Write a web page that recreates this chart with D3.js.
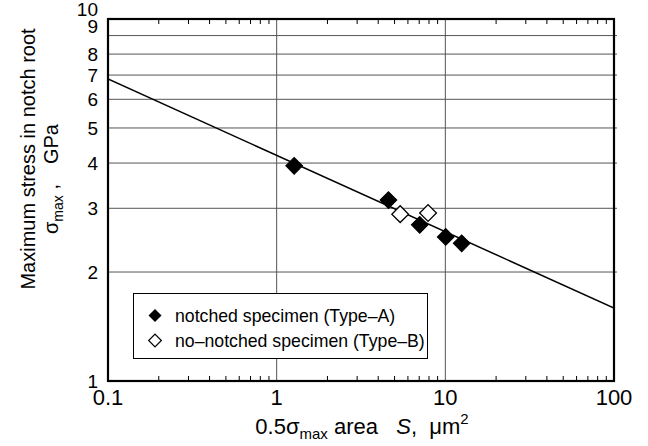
<!DOCTYPE html>
<html>
<head>
<meta charset="utf-8">
<script src="https://cdn.jsdelivr.net/npm/d3@7"></script>
<style>
body { margin: 0; background: #fff; }
svg text { font-family: "Liberation Sans", Arial, sans-serif; fill: #000; white-space: pre; }
</style>
</head>
<body>
<svg id="chart" width="648" height="446"></svg>
<script>
// Data
const typeA_S = [1.27, 4.6, 7.05, 10.05, 12.5];
const typeA_sigma = [3.93, 3.16, 2.70, 2.50, 2.40];
const typeB_S = [5.4, 7.9];
const typeB_sigma = [2.89, 2.91];
const fitS = [0.1, 100];
const fitSigma = [6.83, 1.59];
const xTicks = [0.1, 1, 10, 100];
const xTickLabels = ["0.1", "1", "10", "100"];
const yTicks = [1, 2, 3, 4, 5, 6, 7, 8, 9, 10];
const yTickLabels = ["1", "2", "3", "4", "5", "6", "7", "8", "9", "10"];
const yGrid = [2, 3, 4, 5, 6, 7, 8, 9];
const xGrid = [1, 10];
const legendLabels = ["notched specimen (Type\u2013A)", "no\u2013notched specimen (Type\u2013B)"];

const svg = d3.select("#chart");
const m = { left: 108, right: 614, top: 19, bottom: 381 };
const x = d3.scaleLog().domain([0.1, 100]).range([m.left, m.right]);
const y = d3.scaleLog().domain([1, 10]).range([m.bottom, m.top]);

// grid
svg.append("g").selectAll("line").data(yGrid).join("line")
  .attr("x1", m.left).attr("x2", m.right + 3)
  .attr("y1", d => y(d)).attr("y2", d => y(d))
  .attr("stroke", "#555").attr("stroke-width", 1);
svg.append("g").selectAll("line").data(xGrid).join("line")
  .attr("x1", d => x(d)).attr("x2", d => x(d))
  .attr("y1", m.top).attr("y2", m.bottom)
  .attr("stroke", "#555").attr("stroke-width", 1);

// minor ticks top & bottom (inward)
const minor = [];
[0.1, 1, 10].forEach(dec => { for (let k = 2; k <= 9; k++) minor.push(dec * k); });
svg.append("g").selectAll("line").data(minor).join("line")
  .attr("x1", d => x(d)).attr("x2", d => x(d))
  .attr("y1", m.bottom).attr("y2", m.bottom - 5)
  .attr("stroke", "#000").attr("stroke-width", 1);
svg.append("g").selectAll("line").data(minor).join("line")
  .attr("x1", d => x(d)).attr("x2", d => x(d))
  .attr("y1", m.top).attr("y2", m.top + 5)
  .attr("stroke", "#000").attr("stroke-width", 1);

// fit line
const clipId = "plotclip";
svg.append("clipPath").attr("id", clipId).append("rect")
  .attr("x", m.left).attr("y", m.top).attr("width", m.right - m.left).attr("height", m.bottom - m.top);
svg.append("path")
  .datum(fitS.map((s, i) => [s, fitSigma[i]]))
  .attr("clip-path", `url(#${clipId})`)
  .attr("d", d3.line().x(d => x(d[0])).y(d => y(d[1])))
  .attr("fill", "none").attr("stroke", "#000").attr("stroke-width", 1.5);

// points
const diamond = d3.symbol().type(d3.symbolSquare).size(140);
svg.append("g").selectAll("path").data(typeA_S.map((s, i) => [s, typeA_sigma[i]])).join("path")
  .attr("d", diamond)
  .attr("transform", d => `translate(${x(d[0])},${y(d[1])}) rotate(45)`)
  .attr("fill", "#000").attr("stroke", "#000").attr("stroke-width", 1);
svg.append("g").selectAll("path").data(typeB_S.map((s, i) => [s, typeB_sigma[i]])).join("path")
  .attr("d", diamond)
  .attr("transform", d => `translate(${x(d[0])},${y(d[1])}) rotate(45)`)
  .attr("fill", "#fff").attr("stroke", "#000").attr("stroke-width", 1.3);

// legend
const lg = svg.append("g");
lg.append("rect").attr("x", 133.5).attr("y", 293.5).attr("width", 294).attr("height", 65)
  .attr("fill", "#fff").attr("stroke", "#000").attr("stroke-width", 1);
lg.append("path").attr("d", d3.symbol().type(d3.symbolSquare).size(85))
  .attr("transform", "translate(155,315.5) rotate(45)").attr("fill", "#000");
lg.append("path").attr("d", d3.symbol().type(d3.symbolSquare).size(80))
  .attr("transform", "translate(155,340.5) rotate(45)").attr("fill", "#fff").attr("stroke", "#000").attr("stroke-width", 1.2);
lg.selectAll("text").data(legendLabels).join("text")
  .attr("x", 175).attr("y", (d, i) => 322 + i * 25)
  .attr("font-size", 17.7).text(d => d);

// frame
svg.append("rect").attr("x", m.left).attr("y", m.top)
  .attr("width", m.right - m.left).attr("height", m.bottom - m.top)
  .attr("fill", "none").attr("stroke", "#000").attr("stroke-width", 2.2);

// tick labels
svg.append("g").selectAll("text").data(xTicks).join("text")
  .attr("x", d => x(d)).attr("y", 405).attr("text-anchor", "middle")
  .attr("font-size", 22).text((d, i) => xTickLabels[i]);
svg.append("g").selectAll("text").data(yTicks).join("text")
  .attr("x", 98).attr("y", d => y(d) + (d === 10 ? -10 : d === 9 ? -9 : 0)).attr("dy", "0.36em")
  .attr("text-anchor", "end").attr("font-size", 19).text((d, i) => yTickLabels[i]);

// axis titles
const xt = svg.append("text").attr("x", (m.left + m.right) / 2 + 1).attr("y", 434)
  .attr("text-anchor", "middle").attr("font-size", 22);
xt.append("tspan").text("0.5\u03c3");
xt.append("tspan").attr("font-size", 15).attr("dy", 5).text("max");
xt.append("tspan").attr("dy", -5).text(" area   ");
xt.append("tspan").attr("font-style", "italic").text("S");
xt.append("tspan").text(",  \u03bcm");
xt.append("tspan").attr("font-size", 15).attr("dy", -10).text("2");

const yt = svg.append("g").attr("transform", "translate(35,159) rotate(-90)");
yt.append("text").attr("text-anchor", "middle").attr("font-size", 20).text("Maximum stress in notch root");
const yt2 = yt.append("text").attr("y", 23).attr("x", -20).attr("text-anchor", "middle").attr("font-size", 20);
yt2.append("tspan").text("\u03c3");
yt2.append("tspan").attr("font-size", 14).attr("dy", 5).text("max");
yt2.append("tspan").attr("dy", -5).text(" ,");
yt2.append("tspan").attr("dx", 20).text("GPa");
</script>
</body>
</html>
